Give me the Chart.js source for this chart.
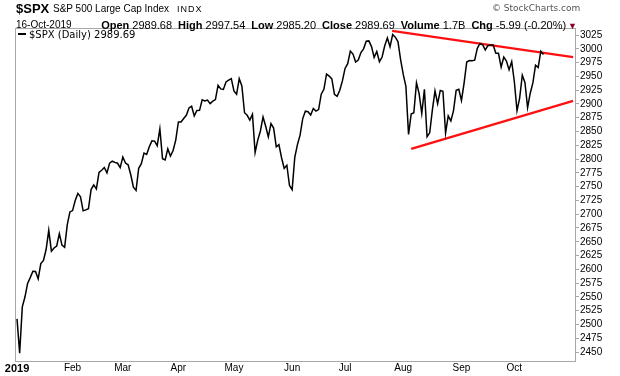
<!DOCTYPE html>
<html>
<head>
<meta charset="utf-8">
<script src="https://cdn.jsdelivr.net/npm/chart.js@4.4.0/dist/chart.umd.min.js"></script>
<style>
  html, body { margin: 0; padding: 0; background: #fff; }
  #wrap { position: relative; width: 620px; height: 376px; font-family: "Liberation Sans", Arial, sans-serif; color: #000; }
  #wrap canvas { position: absolute; left: 0; top: 0; }
  .t { position: absolute; white-space: nowrap; line-height: 1; }
  .b { font-weight: bold; }
  #quoteLine { position: absolute; right: 43px; top: 20px; font-size: 11px; line-height: 1; white-space: nowrap; }
  #quoteLine .b { margin-left: 6px; margin-right: 3px; }
  #quoteLine .tri { font-size: 9px; color: #8b0025; margin-left: 2px; }
</style>
</head>
<body>
<div id="wrap">
  <canvas id="spxChart" width="620" height="376"></canvas>

  <span class="t b" style="left:16px;top:2px;font-size:13px">$SPX</span>
  <span class="t" style="left:53px;top:4px;font-size:10px">S&amp;P 500 Large Cap Index</span>
  <span class="t" style="left:177px;top:5px;font-size:9px;letter-spacing:1px">INDX</span>
  <span class="t" style="left:492px;top:4px;font-size:9px;font-family:'DejaVu Sans';color:#555">&copy; StockCharts.com</span>

  <span class="t" style="left:16px;top:20px;font-size:10px">16-Oct-2019</span>
  <div id="quoteLine"></div>

  <div style="position:absolute;left:18px;top:33px;width:8px;height:2px;background:#000"></div>
  <span class="t" style="left:29px;top:30px;font-size:10px;font-family:'DejaVu Sans'" id="legendText"></span>
</div>
<script>
// S&P 500 daily closes, 2 Jan - 16 Oct 2019
const jan = [2510.03, 2447.89, 2531.94, 2549.69, 2574.41, 2584.96, 2596.64, 2596.26, 2582.61, 2610.30, 2616.10,
  2635.96, 2670.71, 2632.90, 2638.70, 2642.33, 2664.76, 2643.85, 2640.00, 2681.05, 2704.10];
const feb = [2706.53, 2724.87, 2737.70, 2731.61, 2706.05, 2707.88, 2709.80, 2744.73, 2753.03, 2745.73, 2775.60,
  2779.76, 2784.70, 2774.88, 2792.67, 2796.11, 2793.90, 2792.38, 2784.49];
const mar = [2803.69, 2792.81, 2789.65, 2771.45, 2748.93, 2743.07, 2783.30, 2791.52, 2810.92, 2808.48, 2822.48,
  2832.94, 2832.57, 2824.23, 2854.88, 2800.71, 2798.36, 2818.46, 2805.37, 2815.44, 2834.40];
const apr = [2867.19, 2867.24, 2873.40, 2879.39, 2892.74, 2895.77, 2878.20, 2888.21, 2888.32, 2907.41, 2905.58,
  2907.06, 2900.45, 2905.03, 2907.97, 2933.68, 2927.25, 2926.17, 2939.88, 2943.03, 2945.83];
const may = [2923.73, 2917.52, 2945.64, 2932.47, 2884.05, 2879.42, 2870.72, 2881.40, 2811.87, 2834.41, 2850.96,
  2876.32, 2859.53, 2840.23, 2864.36, 2856.27, 2822.24, 2826.06, 2802.39, 2783.02, 2788.86, 2752.06];
const jun = [2744.45, 2803.27, 2826.15, 2843.49, 2873.34, 2886.73, 2885.72, 2879.84, 2891.64, 2886.98, 2889.67,
  2917.75, 2926.46, 2954.18, 2950.46, 2945.35, 2917.38, 2913.78, 2924.92, 2941.76];
const jul = [2964.33, 2973.01, 2995.82, 2990.41, 2975.95, 2979.63, 2993.07, 2999.91, 3013.77, 3014.30, 3004.04,
  2984.42, 2995.11, 2976.61, 2985.03, 3005.47, 3019.56, 3003.67, 3025.86, 3020.97, 3013.18, 2980.38];
const aug = [2953.56, 2932.05, 2844.74, 2881.77, 2883.98, 2938.09, 2918.65, 2882.70, 2926.32, 2840.60, 2847.60,
  2888.68, 2923.65, 2900.51, 2924.43, 2922.95, 2847.11, 2878.38, 2869.16, 2887.94, 2924.58, 2926.46];
const sep = [2906.27, 2937.78, 2976.00, 2978.71, 2978.43, 2979.39, 3000.93, 3009.57, 3007.39, 2997.96, 3005.70,
  3006.73, 3006.79, 2992.07, 2991.78, 2966.60, 2984.87, 2977.62, 2961.79, 2976.74];
const oct = [2940.25, 2887.61, 2910.63, 2952.01, 2938.79, 2893.06, 2919.40, 2938.13, 2970.27, 2966.15, 2995.68,
  2989.69];

const monthLabels = ['2019', 'Feb', 'Mar', 'Apr', 'May', 'Jun', 'Jul', 'Aug', 'Sep', 'Oct'];
const yTickValues = [2450, 2475, 2500, 2525, 2550, 2575, 2600, 2625, 2650, 2675, 2700, 2725, 2750,
  2775, 2800, 2825, 2850, 2875, 2900, 2925, 2950, 2975, 3000, 3025];

// hand drawn trend lines (trading-day index, price)
const upperTrend = [{x: 141.8, y: 3032.6}, {x: 210.2, y: 2985.0}];
const lowerTrend = [{x: 149.0, y: 2818.4}, {x: 210.2, y: 2905.5}];

const quoteNames = ['Open', 'High', 'Low', 'Close', 'Volume', 'Chg'];
const quoteValues = ['2989.68', '2997.54', '2985.20', '2989.69', '1.7B', '-5.99 (-0.20%)'];

// header quote line
const qLine = document.getElementById('quoteLine');
quoteNames.forEach((name, i) => {
  const b = document.createElement('span');
  b.className = 'b';
  b.textContent = name;
  const v = document.createElement('span');
  v.textContent = quoteValues[i];
  qLine.appendChild(b);
  qLine.appendChild(v);
});
const tri = document.createElement('span');
tri.className = 'tri';
tri.textContent = '\u25BC';
qLine.appendChild(tri);
document.getElementById('legendText').textContent = '$SPX (Daily) ' + quoteValues[3];

const months = [jan, feb, mar, apr, may, jun, jul, aug, sep, oct];
const closes = [].concat(...months);
const monthStarts = [];
let n = 0;
months.forEach(m => { monthStarts.push(n); n += m.length; });

const spxPoints = closes.map((v, i) => ({x: i, y: v}));

const frameBox = {
  id: 'frameBox',
  afterDraw(chart) {
    const {ctx, chartArea: a} = chart;
    ctx.save();
    ctx.strokeStyle = '#a8a8a8';
    ctx.lineWidth = 1;
    ctx.strokeRect(a.left + 0.5, a.top + 0.5, a.right - a.left - 1, a.bottom - a.top - 1);
    ctx.restore();
  }
};

const ctx = document.getElementById('spxChart').getContext('2d');
const spxChart = new Chart(ctx, {
  type: 'line',
  data: {
    datasets: [{
      label: '$SPX (Daily)',
      data: spxPoints,
      borderColor: '#000',
      borderWidth: 1.5,
      pointRadius: 0,
      tension: 0
    }, {
      label: 'upper',
      data: upperTrend,
      borderColor: '#ff1010',
      borderWidth: 2.3,
      pointRadius: 0
    }, {
      label: 'lower',
      data: lowerTrend,
      borderColor: '#ff1010',
      borderWidth: 2.3,
      pointRadius: 0
    }]
  },
  options: {
    responsive: false,
    devicePixelRatio: 1,
    animation: false,
    layout: { padding: { left: 15, top: 28, right: 0, bottom: 0 } },
    plugins: { legend: { display: false }, tooltip: { enabled: false } },
    scales: {
      x: {
        type: 'linear',
        min: -0.76,
        max: 211.3,
        grid: { display: false, drawTicks: false },
        border: { display: false },
        afterBuildTicks: s => { s.ticks = monthStarts.map(v => ({value: v})); },
        afterFit: s => { s.height = 14; },
        ticks: {
          autoSkip: false,
          maxRotation: 0,
          padding: 0,
          color: '#000',
          font: c => c.index === 0
            ? {family: 'Liberation Sans', size: 11, weight: 'bold'}
            : {family: 'Liberation Sans', size: 10},
          callback: (v, i) => monthLabels[i]
        }
      },
      y: {
        position: 'right',
        min: 2431.9,
        max: 3037.7,
        grid: { drawOnChartArea: false, tickLength: 3, color: '#a8a8a8' },
        border: { display: false },
        afterBuildTicks: s => { s.ticks = yTickValues.map(v => ({value: v})); },
        afterFit: s => { s.width = 44; },
        ticks: {
          autoSkip: false,
          padding: 1,
          color: '#000',
          font: {family: 'Liberation Sans', size: 10},
          callback: v => String(v)
        }
      }
    }
  },
  plugins: [frameBox]
});
</script>
</body>
</html>
